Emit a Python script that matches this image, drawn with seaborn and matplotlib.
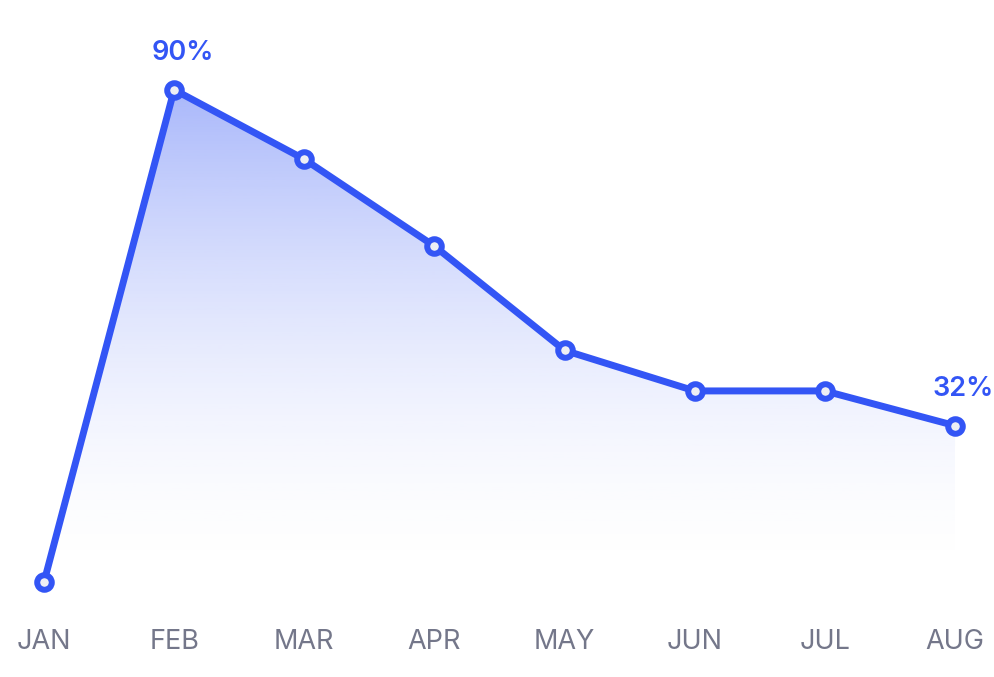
import numpy as np
import pandas as pd
import matplotlib
matplotlib.use("Agg")
import matplotlib.pyplot as plt
import seaborn as sns
from matplotlib.colors import to_rgb

months = ["JAN", "FEB", "MAR", "APR", "MAY", "JUN", "JUL", "AUG"]
values = [5, 90, 78, 63, 45, 38, 38, 32]
labeled = {"FEB": "90%", "AUG": "32%"}

blue = "#3355f5"
grey = "#74778a"

df = pd.DataFrame({"month": months, "value": values})
df["pos"] = range(len(months))

sns.set_style("white")
plt.rcParams["font.family"] = ["Inter", "DejaVu Sans"]

fig = plt.figure(figsize=(9.95, 6.77), dpi=100)
ax = fig.add_axes([0, 66 / 677, 1, 611 / 677])

# gradient fill under the line
fill = ax.fill_between(df["pos"], df["value"], 0, color="none", lw=0)
ys = np.linspace(0, 1, 300)
t = np.clip((ys * 105.5 - 5) / 85, 0, 1)
alpha = 0.42 * t ** 1.7
r, g, b = to_rgb(blue)
grad = np.zeros((300, 1, 4))
grad[:, 0, 0], grad[:, 0, 1], grad[:, 0, 2] = r, g, b
grad[:, 0, 3] = alpha
img = ax.imshow(grad, aspect="auto", origin="lower",
                extent=[0, len(months) - 1, 0, 105.5], zorder=1)
img.set_clip_path(fill.get_paths()[0], transform=ax.transData)

sns.lineplot(data=df, x="pos", y="value", ax=ax, color=blue, lw=5,
             marker="o", markersize=10.5, markerfacecolor="#eeeef4",
             markeredgecolor=blue, markeredgewidth=4.3, zorder=3)

for _, row in df.iterrows():
    if row["month"] in labeled:
        ax.annotate(labeled[row["month"]], (row["pos"], row["value"]),
                    xytext=(6, 17), textcoords="offset points",
                    ha="center", va="bottom", color=blue, fontsize=19.5,
                    fontweight="semibold")

ax.set_xlim(-0.338, len(months) - 1 + 0.307)
ax.set_ylim(0, 105.5)
ax.set_xticks(df["pos"], months)
ax.set_yticks([])
ax.tick_params(axis="x", length=0, pad=13, labelsize=19.5, labelcolor=grey)
ax.set_xlabel("")
ax.set_ylabel("")
sns.despine(ax=ax, left=True, bottom=True)

fig.savefig("out.png", dpi=100)
